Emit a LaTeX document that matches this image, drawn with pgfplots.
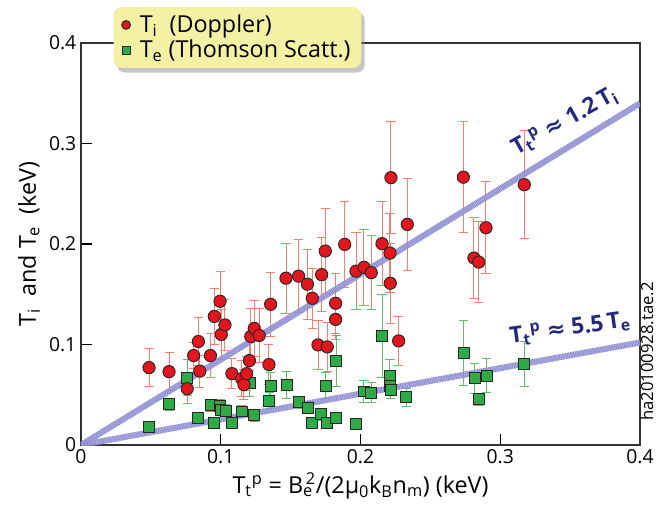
\documentclass[border=0pt]{standalone}
\usepackage{pgfplots}
\pgfplotsset{compat=1.18}
\usepackage{pgfplotstable}
\usepackage{fontspec}
\setmainfont{Open Sans}
\newfontfamily\dejavu{DejaVu Sans}
\usetikzlibrary{shadows}

\definecolor{tired}{HTML}{E3161E}
\definecolor{errred}{HTML}{F5806E}
\definecolor{tegreen}{HTML}{2EAA46}
\definecolor{errgreen}{HTML}{62BC6A}
\definecolor{fitc}{HTML}{AAAAE2}
\definecolor{fitd}{HTML}{7E7EC8}
\definecolor{navy}{HTML}{232A7E}
\definecolor{legyellow}{HTML}{F4F0A4}

% Ti from Doppler: x = Tt^p, y = Ti, e = error
\pgfplotstableread{
x y e
0.0487 0.077 0.019
0.063 0.073 0.019
0.076 0.056 0.015
0.0806 0.089 0.013
0.0840 0.103 0.024
0.0850 0.0735 0.016
0.0926 0.089 0.022
0.0954 0.128 0.028
0.0995 0.143 0.030
0.1004 0.110 0.025
0.103 0.1195 0.025
0.108 0.071 0.015
0.115 0.066 0.018
0.1166 0.060 0.015
0.1185 0.071 0.017
0.1205 0.084 0.022
0.1215 0.108 0.028
0.124 0.116 0.028
0.1275 0.109 0.027
0.1345 0.080 0.020
0.1357 0.140 0.032
0.1467 0.166 0.035
0.1557 0.168 0.036
0.162 0.160 0.035
0.1655 0.146 0.030
0.1722 0.1695 0.037
0.1748 0.193 0.042
0.1696 0.0996 0.024
0.1762 0.0976 0.024
0.1822 0.141 0.030
0.1822 0.125 0.020
0.1887 0.1996 0.043
0.1968 0.173 0.038
0.2025 0.1768 0.038
0.2077 0.1715 0.037
0.2154 0.2003 0.042
0.2218 0.266 0.056
0.2211 0.191 0.039
0.2213 0.161 0.040
0.2335 0.2195 0.046
0.2273 0.1036 0.024
0.2736 0.2665 0.055
0.2812 0.186 0.040
0.2846 0.182 0.040
0.2898 0.2162 0.046
0.3172 0.259 0.054
}\tiData

% Te from Thomson scattering
\pgfplotstableread{
x y e
0.0487 0.0179 0.005
0.063 0.0407 0.006
0.076 0.067 0.018
0.0840 0.0265 0.005
0.0928 0.0394 0.006
0.0954 0.022 0.005
0.0995 0.039 0.006
0.0998 0.035 0.006
0.1035 0.034 0.006
0.1083 0.0215 0.005
0.115 0.0334 0.006
0.1207 0.0616 0.013
0.124 0.0295 0.006
0.1347 0.044 0.008
0.1357 0.059 0.013
0.1472 0.0596 0.0135
0.1557 0.0424 0.006
0.1624 0.037 0.006
0.1653 0.022 0.005
0.1717 0.0308 0.006
0.1762 0.0222 0.005
0.1825 0.0268 0.005
0.1751 0.059 0.013
0.1825 0.0837 0.0255
0.1968 0.0209 0.005
0.2025 0.0533 0.011
0.2077 0.052 0.010
0.2154 0.1086 0.041
0.2211 0.0685 0.017
0.2213 0.0586 0.008
0.2216 0.0546 0.008
0.2326 0.0474 0.009
0.2738 0.0917 0.032
0.2817 0.0665 0.015
0.2903 0.0688 0.017
0.2846 0.0457 0.006
0.3172 0.0804 0.0226
}\teData

\newcommand{\Ttp}{T\textsubscript{t}\textsuperscript{p}}

\begin{document}
\begin{tikzpicture}
\path[use as bounding box] (-60.75pt,-52.5pt) rectangle (433.5pt,333.75pt);
\begin{axis}[
  at={(0pt,0pt)}, anchor=south west,
  scale only axis, width=419.25pt, height=301.5pt,
  xmin=0, xmax=0.4, ymin=0, ymax=0.4,
  xtick={0,0.1,0.2,0.3,0.4},
  ytick={0,0.1,0.2,0.3,0.4},
  tick pos=left, tick align=inside,
  major tick length=8pt,
  axis line style={draw=black!80, line width=1.1pt},
  tick style={black, line width=0.9pt},
  ticklabel style={font=\fontsize{14.5}{17}\selectfont},
  /pgf/number format/assume math mode=true,
  xlabel={\Ttp{} = B\textsubscript{e}\kern-0.3em\textsuperscript{2}/(2μ\textsubscript{0}k\textsubscript{B}n\textsubscript{m}) (keV)},
  ylabel={T\textsubscript{i}\ \ and\ T\textsubscript{e}\ \ (keV)},
  label style={font=\fontsize{17.5}{21}\selectfont},
  legend reversed,
  legend cell align=left,
  legend style={at={(0.058,1.09)}, anchor=north west, fill=legyellow,
    draw=none, rounded corners=6pt,
    drop shadow={shadow xshift=2.5pt, shadow yshift=-3.5pt, opacity=0.45},
    font=\fontsize{17.5}{20}\selectfont, inner xsep=6pt, inner ysep=4pt,
    row sep=0pt},
]
\addplot[only marks, mark=square*, mark size=4.1pt,
  mark options={fill=tegreen, draw=black!85, line width=0.7pt},
  legend image post style={mark size=3pt},
  error bars/.cd, y dir=both, y explicit,
  error bar style={color=errgreen, line width=0.75pt},
  error mark options={color=errgreen, line width=0.75pt, mark size=3.4pt, rotate=90}]
  table[x=x, y=y, y error=e]{\teData};
\addlegendentry{\hspace{5pt}T\textsubscript{e} (Thomson Scatt.)}

\addplot[only marks, mark=*, mark size=4.6pt,
  mark options={fill=tired, draw=black!85, line width=0.7pt},
  legend image post style={mark size=3.3pt},
  error bars/.cd, y dir=both, y explicit,
  error bar style={color=errred, line width=0.75pt},
  error mark options={color=errred, line width=0.75pt, mark size=3.4pt, rotate=90}]
  table[x=x, y=y, y error=e]{\tiData};
\addlegendentry{\hspace{5pt}T\textsubscript{i}\ \ (Doppler)}

% fitted lines, hatched look
\addplot[forget plot, line width=4.5pt, color=fitc, opacity=0.8] coordinates {(0,0) (0.4,0.34)};
\addplot[forget plot, line width=4.5pt, color=fitd, opacity=0.8, dash pattern=on 0.6pt off 0.6pt] coordinates {(0,0) (0.4,0.34)};
\addplot[forget plot, line width=4.5pt, color=fitc, opacity=0.8] coordinates {(0,0) (0.4,0.102)};
\addplot[forget plot, line width=4.5pt, color=fitd, opacity=0.8, dash pattern=on 0.6pt off 0.6pt] coordinates {(0,0) (0.4,0.102)};

\node[rotate=29, text=navy, font=\bfseries\fontsize{17}{20}\selectfont]
  at (axis cs:0.346,0.322) {\Ttp{} {\dejavu\bfseries ≈} 1.2\,T\textsubscript{i}};
\node[rotate=8, text=navy, font=\bfseries\fontsize{17}{20}\selectfont]
  at (axis cs:0.350,0.116) {\Ttp{} {\dejavu\bfseries ≈} 5.5\,T\textsubscript{e}};
\end{axis}
\node[rotate=90, font=\fontsize{12.5}{15}\selectfont] at (424.5pt,70pt) {ha20100928.tae.2};
\end{tikzpicture}
\end{document}
